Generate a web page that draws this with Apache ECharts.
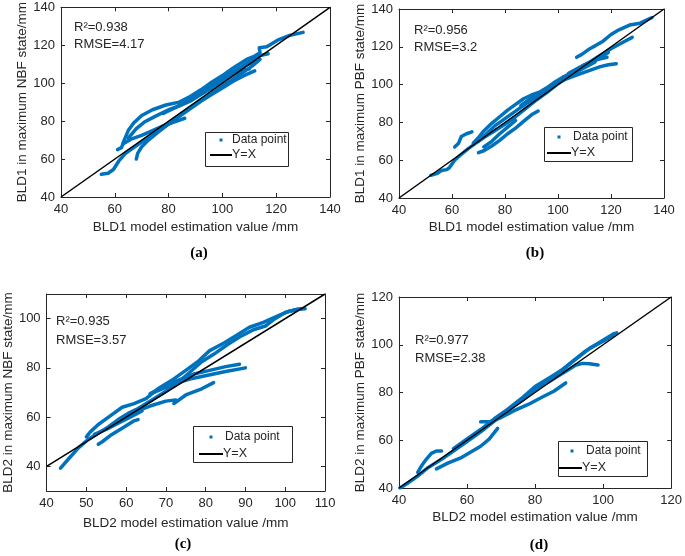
<!DOCTYPE html>
<html><head><meta charset="utf-8">
<script src="https://cdn.jsdelivr.net/npm/echarts@6/dist/echarts.min.js"></script>
<style>html,body{margin:0;padding:0;background:#fff}#c{width:685px;height:556px}</style>
</head><body><div id="c"></div>
<script>
// ---------- DATA ----------
// (a) BLD1, NBF state
const tracksA = [
  [[55,52],[57.5,52.5],[59.5,54.5],[61.5,59],[64,63],[67,66],[71,70],[76,74.5],[81,79.5],[86,85],[91,90],[96,94.5],[101,99.5],[106,104],[111,109],[114,112.5]],
  [[61,65],[62.5,66],[63.5,70],[65,75],[67,79],[70,83],[74,86],[79,88.5],[84,90],[88,93],[92,96.5],[96,100.5],[100,104],[104,108],[109,112.5],[112,114.3],[114,116],[113.7,118.7],[116.5,119.2],[121,123],[125,125.2],[130,126.8]],
  [[68,60],[68.5,63],[70,66.5],[72.5,70],[76,74],[80,78.5],[84,82.5],[88,86.5],[92,90.5],[96,94],[100,97.5],[104,101],[108,104],[112,106.5]],
  [[63,68],[66,70.5],[70,72.5],[74,75],[78,77.5],[82,79.5],[86,81.5]],
  [[65,71],[68,76],[71,79.5],[75,82.5],[80,86],[84,88],[88,90.5],[92,94],[96,97.5],[100,101],[104,104.5],[108,107],[110,107.5]],
  [[100,101.5],[104,106],[108,109.5],[111,112.5],[114,114.5],[117,115.5]],
  [[78,84],[83,87.5],[88,91.5],[93,96],[98,100.5],[103,105],[108,109],[112,111.5]]
];
// (b) BLD1, PBF state
const tracksB = [
  [[52,52],[54.5,53],[56,54.5],[58,55],[59,56],[61,60],[63,62.5],[66,66],[69,69],[72,72],[76,75.5],[80,79],[84,83],[88,87.5],[92,92],[96,96],[100,100.5],[104,104],[108,107.5],[112,111],[116,114.5],[119,117]],
  [[68,69],[70,72],[72,75.5],[75,79.5],[78,83],[81,86.5],[84,89.5],[87,92.5],[90,94.5],[93,96],[96,98.5],[99,101.5],[102,104]],
  [[70,70],[73,74],[76,78],[80,82],[84,86],[88,90],[92,93.5],[96,97],[100,101]],
  [[70,64],[72,65],[75,67.5],[78,70.5],[81,74],[84,77],[87,80.5],[90,84],[92.5,86]],
  [[72,67],[75,70],[78,74],[81,77.5],[84,81]],
  [[61,67],[62.5,69],[63.5,72.5],[65.5,74],[67.5,75]],
  [[107,114.5],[109,116],[112,119],[114,120.5],[117,123],[120,126.5],[123,129],[127,131.5],[131,132.5],[134,134.5],[135.5,135.5]],
  [[104,106],[108,109],[112,112],[116,115.5],[120,119],[124,122],[128,125]],
  [[102,104],[106,107],[110,110.5],[114,113],[118.5,114.5]],
  [[100,101.5],[104,103.5],[108,105.5],[112,107.5],[116,109.5],[119,110.5],[122,111]],
  [[86,89],[90,93],[95,97.5],[100,101.5],[105,105.5],[110,109],[114,112]]
];
// (c) BLD2, NBF state
const tracksC = [
  [[43.5,39.3],[45.5,43],[48,47.5],[50.5,51],[53,53.5],[55.5,56],[58,59],[60.5,61.5],[63,63.5],[66.5,67],[70,70.5],[73,74],[75.5,77.5],[79,82.5],[82,85.5],[85.5,89.5],[89,93],[92,95.5],[95,97],[97,99.5],[100,102.5],[103,103.8],[105,104]],
  [[50,52],[51,54],[53,57],[56,60.5],[59,64],[62,65.5],[65,67.5],[68,71.5],[72,75.5],[75,79],[78,82.5],[81,87],[84.5,90],[88,93.5],[91,96.5],[94.5,98.5],[98,101],[101,103],[104,104]],
  [[66,69.5],[70,73],[74,75.5],[77,77.5],[81,79],[85,80.5],[88.5,81.5]],
  [[67,70],[72,73.5],[76,75.5],[80.5,77],[85,78.5],[90,80]],
  [[62,62],[66,64.5],[70,66.5],[72.5,67],[72,65.5],[75,69],[79,71.5],[82,74]],
  [[53,49],[54,50],[56,52.5],[59,55.5],[62,58.5],[63,59]],
  [[52,53],[55,55],[58,57.5],[61,60],[64,62.5]]
];
// (d) BLD2, PBF state
const tracksD = [
  [[40.3,40],[42.5,42],[45.5,45],[48.5,48.5],[52.5,52],[56,55.5],[60,59.5],[64,63.5],[68,68],[72,72.5],[76,76.5],[80,81],[83.5,85],[87.5,89],[91,93],[95,97.5],[99,101],[103,104.5],[104,105]],
  [[45.5,46.5],[46.5,49],[48,52],[49.5,54.5],[51,55.5],[52.5,55.5]],
  [[64,67.7],[67,67.8],[70,69.5],[74,72.5],[78,75],[82,78],[85.5,80.5],[89,84]],
  [[51,48],[54.5,50.5],[58,52.5],[61,55],[64,57.5],[66.5,60.5],[69,65]],
  [[80,81.5],[84,84.5],[88,88],[92,91.5],[94,92.2],[96,92],[98.5,91.5]],
  [[56,56.5],[60,60.5],[64,64.5],[68,69],[72,73],[76,77.5],[80,82.5],[84,86],[88,89.5],[92,94],[96,98.5],[100,101.5],[103,104]]
];
const lineA = [[40,40],[140,140]];
const lineB = [[40,40],[140,140]];
const lineC = [[40,40],[110,110]];
const lineD = [[40,40],[120,120]];
const statsA = ['R²=0.938','RMSE=4.17'];
const statsB = ['R²=0.956','RMSE=3.2'];
const statsC = ['R²=0.935','RMSE=3.57'];
const statsD = ['R²=0.977','RMSE=2.38'];
const xNames = ['BLD1 model estimation value /mm','BLD1 model estimation value /mm','BLD2 model estimation value /mm','BLD2 model estimation value /mm'];
const yNames = ['BLD1 in maximum NBF state/mm','BLD1 in maximum PBF state/mm','BLD2 in maximum NBF state/mm','BLD2 in maximum PBF state/mm'];
const subLabels = ['(a)','(b)','(c)','(d)'];
const yTicksC = [40,60,80,100];

// ---------- CHART ----------
const FONT = "'Liberation Sans', Arial, sans-serif";
const AX = '#262626';
const BLUE = '#0072BD';
const chart = echarts.init(document.getElementById('c'), null, {renderer:'canvas'});

const panels = [
  {grid:{left:61, top:6, width:269, height:191}, x:[40,140,20], y:[40,140,20], tracks:tracksA, yx:lineA, xGap:23, yGap:29},
  {grid:{left:399, top:9, width:265, height:189}, x:[40,140,20], y:[40,140,20], tracks:tracksB, yx:lineB, xGap:22, yGap:27},
  {grid:{left:44, top:294, width:281, height:197}, x:[40,110,10], y:[30,110,10], yCustom:yTicksC, tracks:tracksC, yx:lineC, xGap:25, yGap:29},
  {grid:{left:399, top:297, width:275, height:191}, x:[40,120,20], y:[40,120,20], tracks:tracksD, yx:lineD, xGap:22, yGap:32}
];

const grids = [], xAxes = [], yAxes = [], series = [];
panels.forEach((p, i) => {
  grids.push(Object.assign({containLabel:false}, p.grid));
  const base = (show, pos, r, name, gap, custom) => {
    const ax = {
      type:'value', gridIndex:i, position:pos, min:r[0], max:r[1], interval:r[2],
      axisLine:{show:true, onZero:false, lineStyle:{color:AX, width:1}},
      axisTick:{show:true, inside:true, length:4, lineStyle:{color:AX}},
      axisLabel:{show:show, fontSize:13, color:AX, fontFamily:FONT, margin:6},
      splitLine:{show:false}
    };
    if (custom) { ax.axisTick.customValues = custom; ax.axisLabel.customValues = custom; }
    if (name) {
      ax.name = name; ax.nameLocation = 'middle'; ax.nameGap = gap;
      ax.nameTextStyle = {fontSize:13.5, color:AX, fontFamily:FONT};
    }
    return ax;
  };
  xAxes.push(base(true, 'bottom', p.x, xNames[i], p.xGap));
  xAxes.push(base(false, 'top', p.x));
  yAxes.push(base(true, 'left', p.y, yNames[i], p.yGap, p.yCustom));
  yAxes.push(base(false, 'right', p.y, null, 0, p.yCustom));
  p.tracks.forEach(t => {
    series.push({type:'line', name:'Data point', xAxisIndex:2*i, yAxisIndex:2*i, data:t,
      showSymbol:false, symbol:'none', smooth:false, z:2,
      lineStyle:{color:BLUE, width:3.5, cap:'round', join:'round'}, itemStyle:{color:BLUE}});
  });
  series.push({type:'line', name:'Y=X', xAxisIndex:2*i, yAxisIndex:2*i, data:p.yx,
    showSymbol:false, symbol:'none', z:3, lineStyle:{color:'#000', width:1.5}});
});

const graphics = [];
function txt(x, y, s, opt) {
  opt = opt || {};
  graphics.push({type:'text', silent:true, z:10, style:Object.assign({
    text:s, x:x, y:y, fill:opt.fill || AX, fontSize:opt.fontSize || 12.5,
    fontFamily:opt.fontFamily || FONT, fontWeight:opt.fontWeight || 'normal',
    align:opt.align || 'left', verticalAlign:'middle',
    textAlign:opt.align || 'left', textVerticalAlign:'middle'
  })});
}
// stats text
const statPos = [[74,27,44],[414,30,47],[56,321,340],[415,340,358]];
[statsA, statsB, statsC, statsD].forEach((s, i) => {
  txt(statPos[i][0], statPos[i][1], s[0], {fontSize:13});
  txt(statPos[i][0], statPos[i][2], s[1], {fontSize:13});
});
// sub-labels
const subPos = [[199,253],[535,253],[183,544],[539,545]];
subLabels.forEach((s, i) => txt(subPos[i][0], subPos[i][1], s,
  {align:'center', fontSize:15, fontWeight:'bold', fontFamily:"'Liberation Serif', 'Times New Roman', serif", fill:'#000'}));
// legends
const legends = [
  {box:[205,132,83,34], mk:[221,140], tx:232, y1:140, ln:[210,232], y2:155},
  {box:[544,127,88,34], mk:[559,137], tx:573, y1:137, ln:[547,571], y2:153},
  {box:[193,426,99,36], mk:[211,437], tx:225, y1:437, ln:[199,223], y2:454},
  {box:[558,441,89,35], mk:[572,451], tx:586, y1:451, ln:[559,582], y2:468}
];
legends.forEach(L => {
  graphics.push({type:'rect', silent:true, z:9, shape:{x:L.box[0]+0.5, y:L.box[1]+0.5, width:L.box[2], height:L.box[3]},
    style:{fill:'#fff', stroke:AX, lineWidth:1}});
  graphics.push({type:'rect', silent:true, z:10, shape:{x:L.mk[0]-1.5, y:L.mk[1]-1.5, width:3, height:3},
    style:{fill:BLUE}});
  txt(L.tx, L.y1, 'Data point', {fontSize:12});
  graphics.push({type:'line', silent:true, z:10, shape:{x1:L.ln[0], y1:L.y2, x2:L.ln[1], y2:L.y2},
    style:{stroke:'#000', lineWidth:2}});
  txt(L.ln[1], L.y2, 'Y=X', {fontSize:12.5});
});

chart.setOption({
  animation:false,
  backgroundColor:'#fff',
  grid:grids, xAxis:xAxes, yAxis:yAxes, series:series,
  graphic:{elements:graphics}
});
</script></body></html>
